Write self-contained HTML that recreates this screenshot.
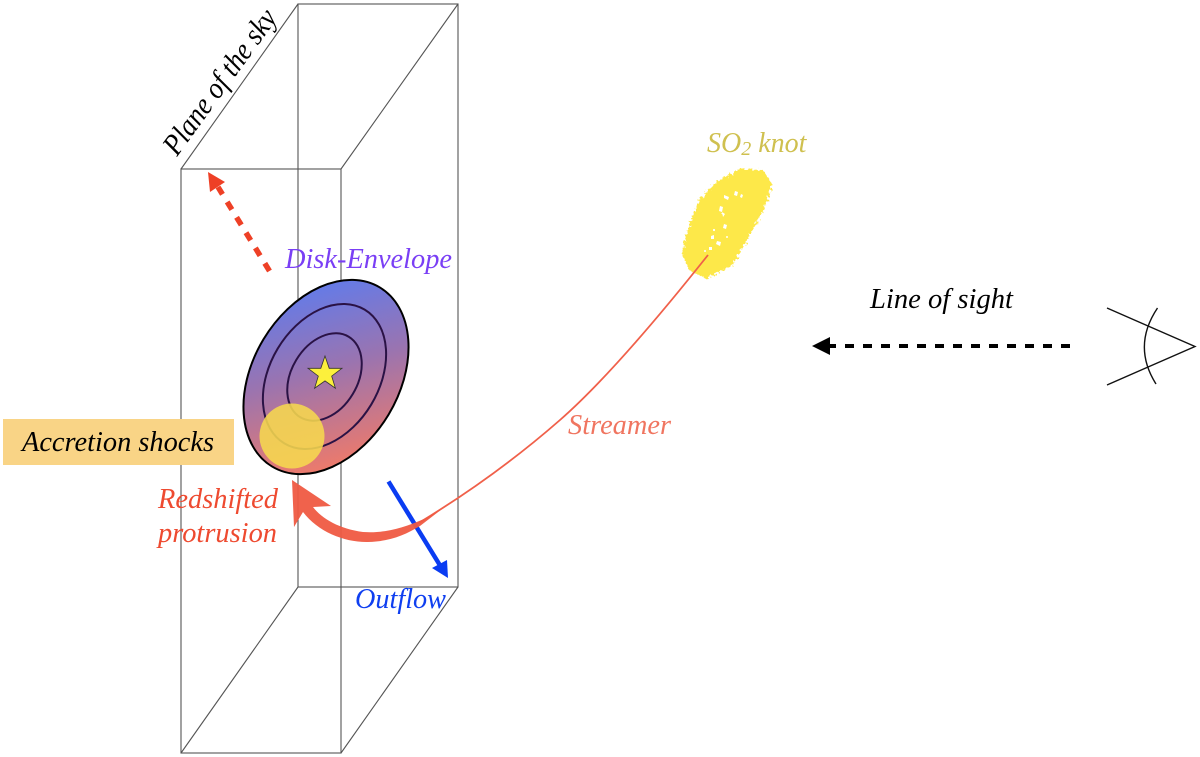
<!DOCTYPE html>
<html><head><meta charset="utf-8">
<style>
html,body{margin:0;padding:0;background:#fff;width:1200px;height:757px;overflow:hidden}
svg{display:block;filter:blur(0.35px)}
text{font-family:"Liberation Serif",serif;font-style:italic}
</style></head>
<body>
<svg width="1200" height="757" viewBox="0 0 1200 757" xmlns="http://www.w3.org/2000/svg">
<defs>
<linearGradient id="g" gradientUnits="userSpaceOnUse" x1="398" y1="298" x2="262" y2="442">
<stop offset="0" stop-color="#5a7cf2"/>
<stop offset="0.5" stop-color="#9a74b0"/>
<stop offset="1" stop-color="#ee7a6a"/>
</linearGradient>
<filter id="rough" x="-10%" y="-10%" width="120%" height="120%">
<feTurbulence type="fractalNoise" baseFrequency="0.35" numOctaves="2" seed="4"/>
<feDisplacementMap in="SourceGraphic" scale="7"/>
</filter>
</defs>

<!-- box -->
<g fill="none" stroke="#555" stroke-width="1.1">
<rect x="181" y="169" width="160" height="584"/>
<rect x="298" y="4" width="160" height="583"/>
<path d="M181 169L298 4M341 169L458 4M181 753L298 587M341 753L458 587"/>
</g>

<!-- label -->
<rect x="3" y="419" width="231" height="46" fill="#f9d486"/>
<text x="22" y="451" font-size="29" textLength="192" lengthAdjust="spacingAndGlyphs" fill="#000">Accretion shocks</text>

<!-- disk -->
<ellipse cx="326" cy="377" rx="104.5" ry="73" transform="rotate(-59 326 377)" fill="url(#g)" stroke="#000" stroke-width="2"/>
<g fill="none" stroke="#2a1245" stroke-width="2">
<ellipse cx="324.5" cy="376.5" rx="78" ry="54.5" transform="rotate(-59 324.5 376.5)"/>
<ellipse cx="324.5" cy="377" rx="47" ry="33" transform="rotate(-59 324.5 377)"/>
</g>
<polygon points="325,356 329.2,368.3 342,368.3 331.7,376.1 335.4,388.2 325,380.9 314.6,388.2 318.3,376.1 308,368.3 320.8,368.3" fill="#fcf03c" stroke="#333" stroke-width="0.8"/>
<circle cx="292" cy="436" r="32.5" fill="#f6d84e" fill-opacity="0.88"/>

<!-- red dashed arrow -->
<line x1="269.5" y1="271" x2="218" y2="187" stroke="#ee4026" stroke-width="5.5" stroke-dasharray="9 9"/>
<polygon points="208,172 225,182 210,192" fill="#ee4026"/>

<!-- blue arrow -->
<line x1="388.5" y1="481.5" x2="441" y2="567" stroke="#0a3cf2" stroke-width="4.5"/>
<polygon points="448,578 432,568 447,560" fill="#0a3cf2"/>

<!-- knot -->
<g filter="url(#rough)">
<path d="M682 254L688 228L700 199L716 182L740 169L763 170L772 184L767 203L755 226L744 246L732 265L707 279L689 270Z" fill="#fde84a"/>
</g>
<g fill="#fff">
<path d="M724 195l5 2l-1 3l-4-2zM735 191l3 1l-1 4l-3-1zM741 194l2 1l-1 3l-2-1z"/>
<path d="M720 206l3 1l-1 5l-3-1zM722 212l3 2l-2 3zM721 213l2 0l0 2z"/>
<path d="M724 224l3 1l-1 4l-3-1zM711 236l3-1l0 4l-3 0zM717 241l4 1l-1 4l-4-2zM709 247l3 0l0 3l-3 0z"/>
<circle cx="714" cy="230" r="1.1"/><circle cx="727" cy="237" r="1"/><circle cx="705" cy="251" r="1"/>
</g>

<!-- streamer -->
<path d="M708 255C650 328 600 385 560 420C520 455 470 492 417 524" fill="none" stroke="#f0604a" stroke-width="1.8"/>
<path d="M292 480L331 506L313 507C322 519 340 529 363 532C385 533.5 403 528 424 519L442 509L420 526C405 535 390 541.5 368 542C345 542.5 318 532 303 512L294 527Z" fill="#ef5a42" fill-opacity="0.95"/>

<!-- line of sight -->
<line x1="1070" y1="346" x2="826" y2="346" stroke="#000" stroke-width="4" stroke-dasharray="9 9"/>
<polygon points="812,346 830,337 830,355" fill="#000"/>
<g fill="none" stroke="#111" stroke-width="1.4">
<path d="M1107 308L1195 346.5L1107 385"/>
<path d="M1157.5 308Q1132 346 1156 384"/>
</g>

<!-- labels -->
<text x="870" y="308" font-size="29" textLength="143" lengthAdjust="spacingAndGlyphs" fill="#000">Line of sight</text>
<text transform="translate(177 157) rotate(-54)" font-size="30" textLength="172" lengthAdjust="spacingAndGlyphs" fill="#000">Plane of the sky</text>
<text x="285" y="268" font-size="29" textLength="167" lengthAdjust="spacingAndGlyphs" fill="#7a3ff5">Disk-Envelope</text>
<text x="158" y="508" font-size="29" textLength="120" lengthAdjust="spacingAndGlyphs" fill="#ee4a30">Redshifted</text>
<text x="158" y="542" font-size="29" textLength="119" lengthAdjust="spacingAndGlyphs" fill="#ee4a30">protrusion</text>
<text x="355" y="608" font-size="29" textLength="91" lengthAdjust="spacingAndGlyphs" fill="#0f3ff0">Outflow</text>
<text x="568" y="434" font-size="28" textLength="103" lengthAdjust="spacingAndGlyphs" fill="#f07560">Streamer</text>
<text x="707" y="152" font-size="28" fill="#cfc04f">SO<tspan font-size="20" dy="3">2</tspan><tspan dy="-3"> knot</tspan></text>
</svg>
</body></html>
